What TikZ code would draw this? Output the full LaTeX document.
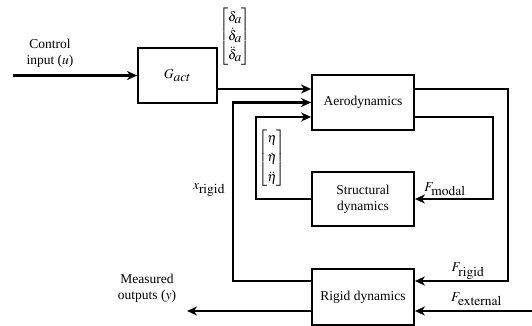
\documentclass[tikz,border=0pt]{standalone}
\usepackage{amsmath}
\usepackage{mathptmx}
\usepackage{fontspec}
\setmainfont{Liberation Serif}
\usetikzlibrary{arrows.meta}
\newcommand{\fsub}[1]{_{\textstyle #1}}
\begin{document}
\begin{tikzpicture}[x=1pt,y=-1pt,
  font=\fontsize{13.5}{16}\selectfont,
  blk/.style={draw,line width=1.8pt,rectangle,inner sep=0pt,align=center},
  wire/.style={line width=2.2pt},
  arr/.style={wire,-{Stealth[length=10pt,width=9pt,inset=3pt]}},
  lbl/.style={inner sep=0pt,align=center}]
\useasboundingbox (0,0) rectangle (532,326);
% blocks
\node[blk,minimum width=79pt,minimum height=55pt] (gact) at (177.5,75.5) {$G\fsub{act}$};
\node[blk,minimum width=102pt,minimum height=55pt] (aero) at (363,102.5) {Aerodynamics};
\node[blk,minimum width=102pt,minimum height=54pt] (struct) at (363,199) {Structural\\dynamics};
\node[blk,minimum width=102pt,minimum height=56pt] (rigid) at (363,297) {Rigid dynamics};
% labels
\node[lbl] (cin) at (50,53) {Control\\input ($u$)};
\node[lbl] (mout) at (147,288) {Measured\\outputs ($y$)};
\node[lbl] (xr) at (209,190) {$x\fsub{\mathrm{rigid}}$};
\node[lbl] (fm) at (445,189) {$F\fsub{\mathrm{modal}}$};
\node[lbl] (fr) at (468,271) {$F\fsub{\mathrm{rigid}}$};
\node[lbl] (fe) at (476.5,299) {$F\fsub{\mathrm{external}}$};
\node[lbl] (dvec) at (235,36.5) {\renewcommand\arraystretch{1.2}$\begin{bmatrix}\delta\fsub{a}\\ \dot{\delta}\fsub{a}\\ \ddot{\delta}\fsub{a}\end{bmatrix}$};
\node[lbl] (evec) at (272,158) {\renewcommand\arraystretch{1.22}$\begin{bmatrix}\eta\\ \dot{\eta}\\ \ddot{\eta}\end{bmatrix}$};
% coordinates
\coordinate (src) at (13,75.5);
\coordinate (ain1) at ([yshift=13.5pt]aero.west);
\coordinate (ain2) at (aero.west);
\coordinate (ain3) at ([yshift=-14.5pt]aero.west);
\coordinate (aout1) at ([yshift=13.5pt]aero.east);
\coordinate (aout2) at ([yshift=-14.5pt]aero.east);
\coordinate (rin) at ([yshift=16pt]rigid.east);
\coordinate (rout) at ([yshift=16pt]rigid.west);
\coordinate (rext) at ([yshift=-14pt]rigid.east);
\coordinate (ry) at ([yshift=-14pt]rigid.west);
\coordinate (yend) at (187,311);
\coordinate (fext) at (532,311);
\coordinate (xl) at (233,0);
\coordinate (xs) at (256,0);
\coordinate (xa) at (508,0);
\coordinate (xb) at (493,0);
% connectors
\draw[arr] (src) -- (gact.west);
\draw[arr] (gact.east |- ain1) -- (ain1);
\draw[arr] (rout) -- (xl |- rout) -- (xl |- ain2) -- (ain2);
\draw[arr] (struct.west) -- (xs |- struct.west) -- (xs |- ain3) -- (ain3);
\draw[arr] (aout1) -- (xa |- aout1) -- (xa |- rin) -- (rin);
\draw[arr] (aout2) -- (xb |- aout2) -- (xb |- struct.east) -- (struct.east);
\draw[arr] (ry) -- (yend);
\draw[arr] (fext) -- (rext);
\end{tikzpicture}
\end{document}
